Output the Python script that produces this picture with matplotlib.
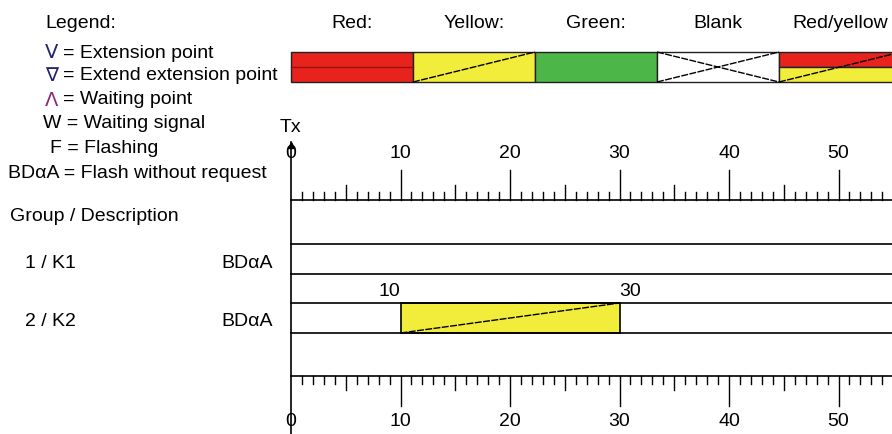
import numpy as np
import matplotlib
matplotlib.use('Agg')
import matplotlib.pyplot as plt
from matplotlib.patches import Rectangle

plt.rcParams['font.family'] = ['Liberation Sans', 'DejaVu Sans']

# Legend entries (symbol, colour, text)
legend_symbols = ['V', '∇', 'Λ', 'W', 'F', 'BDαA']
legend_sym_colors = ['#22226e', '#22226e', '#8a2a78', 'black', 'black', 'black']
legend_texts = ['= Extension point', '= Extend extension point', '= Waiting point',
                '= Waiting signal', '= Flashing', '= Flash without request']

# Colour legend
state_labels = ['Red:', 'Yellow:', 'Green:', 'Blank', 'Red/yellow']

# Signal groups
groups = ['1 / K1', '2 / K2']
group_types = ['BDαA', 'BDαA']
# yellow intervals per group (start, end) in seconds
group_intervals = [[], [(10, 30)]]

tick_labels = [0, 10, 20, 30, 40, 50]

RED = '#e8231d'
YELLOW = '#f2ec3a'
GREEN = '#4cb748'
DARKRED = '#9a1010'
FS = 14

# pixel -> time helper (layout only)
PX0, PPU = 291, 10.95
def t(px):
    return (px - PX0) / PPU

fig = plt.figure(figsize=(8.92, 4.35), dpi=100)
ax = fig.add_axes([0, 0, 1, 1])
ax.set_xlim(t(0), t(892))
ax.set_ylim(435, 0)
ax.axis('off')

# ---- text legend on the left
ax.text(t(45), 23, 'Legend:', fontsize=FS, va='center', ha='left')
sym_x = [45, 45, 45, 43, 50, 8]
eq_x = [63, 63, 63, 63, 68, 54]
leg_y = [53, 75, 100, 124, 149, 174]
for s, c, txt, sx, ex, y in zip(legend_symbols, legend_sym_colors, legend_texts, sym_x, eq_x, leg_y):
    if c == 'black':
        ax.text(t(sx), y, s + ' ' + txt, fontsize=FS, va='center', ha='left')
    else:
        ax.text(t(sx), y, s, color=c, fontsize=FS, va='center', ha='left',
                family=['DejaVu Sans'])
        ax.text(t(ex), y, txt, fontsize=FS, va='center', ha='left')

# ---- colour legend bar
seg_w = 122
top, bot, mid = 53, 83, 68
for i, lab in enumerate(state_labels):
    x0 = 291 + i * seg_w
    x1 = x0 + seg_w
    ax.text(t(x0 + seg_w / 2), 23, lab, fontsize=FS, va='center', ha='center')
    if lab == 'Red:':
        ax.add_patch(Rectangle((t(x0), top), t(x1) - t(x0), bot - top, fc=RED, ec='#202020', lw=1))
        ax.plot([t(x0), t(x1)], [mid, mid], color=DARKRED, lw=1)
    elif lab == 'Yellow:':
        ax.add_patch(Rectangle((t(x0), top), t(x1) - t(x0), bot - top, fc=YELLOW, ec='#202020', lw=1))
        ax.plot([t(x0), t(x1)], [bot, top], color='black', lw=1, ls=(0, (5, 1)))
    elif lab == 'Green:':
        ax.add_patch(Rectangle((t(x0), top), t(x1) - t(x0), bot - top, fc=GREEN, ec='#202020', lw=1))
    elif lab == 'Blank':
        ax.add_patch(Rectangle((t(x0), top), t(x1) - t(x0), bot - top, fc='white', ec='#202020', lw=1))
        ax.plot([t(x0), t(x1)], [bot, top], color='black', lw=1, ls=(0, (5, 1)))
        ax.plot([t(x0), t(x1)], [top, bot], color='black', lw=1, ls=(0, (5, 1)))
    else:
        ax.add_patch(Rectangle((t(x0), top), t(x1) - t(x0), mid - top, fc=RED, ec='#202020', lw=1))
        ax.add_patch(Rectangle((t(x0), mid), t(x1) - t(x0), bot - mid, fc=YELLOW, ec='#202020', lw=1))
        ax.plot([t(x0), t(x1)], [bot, top], color='black', lw=1, ls=(0, (5, 1)))

# ---- time axis (top and bottom)
secs = np.arange(0, 56)
xmax = t(892)
ax.text(t(280), 127, 'Tx', fontsize=FS, va='center', ha='left')
ax.plot([0, 0], [143, 435], color='black', lw=1.2)
ax.plot([0], [146], marker='^', color='black', ms=4)

top_base, bot_base = 201, 377
ax.plot([0, xmax], [top_base, top_base], color='black', lw=1.2)
ax.plot([0, xmax], [bot_base, bot_base], color='black', lw=1.2)
for s in secs[1:]:
    if s % 10 == 0:
        h_top, h_bot = 30, 30
    elif s % 5 == 0:
        h_top, h_bot = 15, 14
    else:
        h_top, h_bot = 8, 8
    ax.plot([s, s], [top_base, top_base - h_top], color='black', lw=1)
    ax.plot([s, s], [bot_base, bot_base + h_bot], color='black', lw=1)
for v in tick_labels:
    ax.text(v, 154, str(v), fontsize=FS, va='center', ha='center')
    ax.text(v, 422, str(v), fontsize=FS, va='center', ha='center')

# ---- group rows
ax.text(t(10), 217, 'Group / Description', fontsize=FS, va='center', ha='left')
row_lines = [(245, 275), (304, 334)]
label_y = [264, 322]
for name, typ, ivs, (y0, y1), ly in zip(groups, group_types, group_intervals, row_lines, label_y):
    ax.text(t(25), ly, name, fontsize=FS, va='center', ha='left')
    ax.text(t(221), ly, typ, fontsize=FS, va='center', ha='left')
    ax.plot([0, xmax], [y0, y0], color='black', lw=1.2)
    ax.plot([0, xmax], [y1, y1], color='black', lw=1.2)
    for a, b in ivs:
        ax.add_patch(Rectangle((a, y0), b - a, y1 - y0, fc=YELLOW, ec='black', lw=1.2))
        ax.plot([a, b], [y1, y0], color='black', lw=1, ls=(0, (5, 1)))
        ax.text(a, y0 - 12, str(a), fontsize=FS, va='center', ha='right')
        ax.text(b, y0 - 12, str(b), fontsize=FS, va='center', ha='left')

fig.savefig('out.png', dpi=100)
